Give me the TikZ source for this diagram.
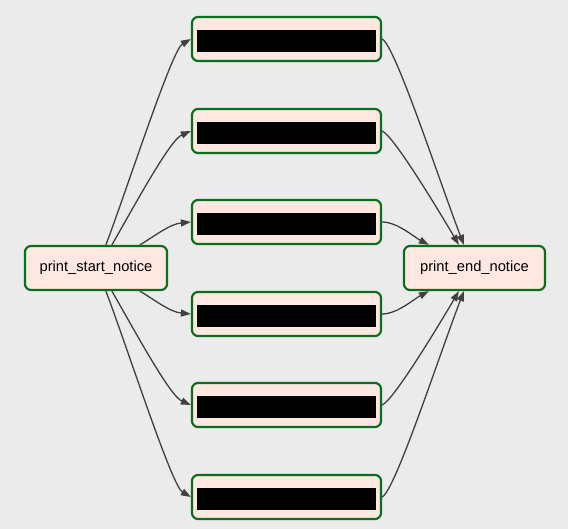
\documentclass[tikz,border=0pt]{standalone}
\usepackage{fontspec}
\setmainfont{Liberation Sans}
\usepackage{xcolor}
\usepackage{tikz}
\usetikzlibrary{arrows.meta, positioning, calc}

\definecolor{bg_gray}{HTML}{EBEBEB}
\definecolor{task_fill}{HTML}{FFE8E1}
\definecolor{task_green}{HTML}{0A6E1E}
\definecolor{edge_gray}{HTML}{404040}

% black bar standing in for the hidden task name
\newcommand{\hiddenname}{\rule[-13pt]{0pt}{26pt}\rule[-13pt]{179pt}{22pt}}

\begin{document}
\begin{tikzpicture}[
    x=1pt, y=-1pt,
    % Define styles for the nodes
    task_node/.style={rectangle, draw=task_green, fill=task_fill, line width=2.2pt, rounded corners=6pt,
        minimum height=44pt, align=center, inner sep=0pt, font=\fontsize{14.7}{17}\selectfont},
    end_node/.style={task_node, minimum width=141pt},
    mid_node/.style={task_node, minimum width=189pt},
    % Styles for arrows
    arrow/.style={-{Triangle[length=10pt, width=7pt]}, line width=1.3pt, draw=edge_gray}
]

    % background, fixes the margins
    \fill[bg_gray] (0,0) rectangle (568,529);
    \useasboundingbox (0,0) rectangle (568,529);

    % =========================================================================
    % START AND END
    % =========================================================================
    \node (start_notice) [end_node, minimum width=142pt] at (96,268) {print\_start\_notice};
    \node (end_notice) [end_node] at (474.5,268) {print\_end\_notice};

    % =========================================================================
    % PARALLEL TASKS (text hidden behind black bars)
    % =========================================================================
    \node (task_1) [mid_node] at (286.5,39) {\hiddenname};
    \node (task_2) [mid_node] at (286.5,131) {\hiddenname};
    \node (task_3) [mid_node] at (286.5,222) {\hiddenname};
    \node (task_4) [mid_node] at (286.5,314) {\hiddenname};
    \node (task_5) [mid_node] at (286.5,405) {\hiddenname};
    \node (task_6) [mid_node] at (286.5,497) {\hiddenname};

    % =========================================================================
    % FAN OUT
    % =========================================================================
    \draw [arrow] ([xshift=82pt]start_notice.north west) .. controls +(24,-64) and +(-19,11) .. (task_1.west);
    \draw [arrow] ([xshift=88pt]start_notice.north west) .. controls +(23,-40) and +(-21,9) .. (task_2.west);
    \draw [arrow] ([xshift=116pt]start_notice.north west) .. controls +(15,-9) and +(-21,2) .. (task_3.west);
    \draw [arrow] ([xshift=116pt]start_notice.south west) .. controls +(15,9) and +(-21,-2) .. (task_4.west);
    \draw [arrow] ([xshift=88pt]start_notice.south west) .. controls +(23,40) and +(-21,-9) .. (task_5.west);
    \draw [arrow] ([xshift=82pt]start_notice.south west) .. controls +(24,64) and +(-19,-11) .. (task_6.west);

    % =========================================================================
    % FAN IN
    % =========================================================================
    \draw [arrow] (task_1.east) .. controls +(13,6) and +(-25,-65) .. ([xshift=61pt]end_notice.north west);
    \draw [arrow] (task_2.east) .. controls +(11,4) and +(-20,-34) .. ([xshift=56pt]end_notice.north west);
    \draw [arrow] (task_3.east) .. controls +(15,0) and +(-15,-8) .. ([xshift=26pt]end_notice.north west);
    \draw [arrow] (task_4.east) .. controls +(15,0) and +(-15,8) .. ([xshift=26pt]end_notice.south west);
    \draw [arrow] (task_5.east) .. controls +(11,-4) and +(-20,34) .. ([xshift=56pt]end_notice.south west);
    \draw [arrow] (task_6.east) .. controls +(13,-6) and +(-25,65) .. ([xshift=61pt]end_notice.south west);

\end{tikzpicture}
\end{document}
